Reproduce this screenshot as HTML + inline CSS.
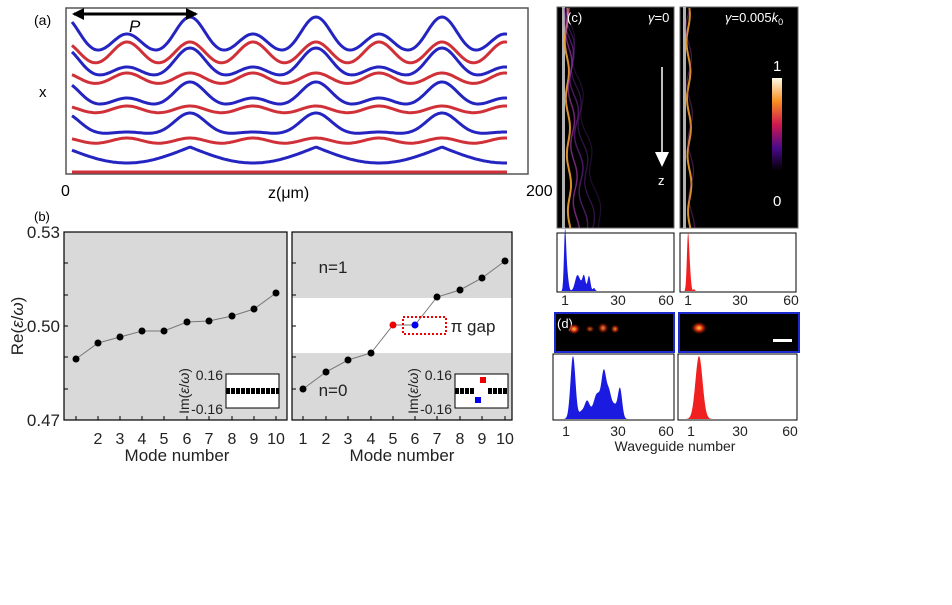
<!DOCTYPE html>
<html><head><meta charset="utf-8"><style>
html,body{margin:0;padding:0;background:#fff;}
svg{display:block;font-family:"Liberation Sans",Arial,sans-serif;}
</style></head><body>
<svg id="s" width="952" height="605" viewBox="0 0 952 605" xmlns="http://www.w3.org/2000/svg">
<defs>
<linearGradient id="cb" x1="0" y1="1" x2="0" y2="0">
<stop offset="0" stop-color="#000"/><stop offset="0.25" stop-color="#4a0a8a"/><stop offset="0.5" stop-color="#d01850"/><stop offset="0.75" stop-color="#f89020"/><stop offset="1" stop-color="#fffbe8"/>
</linearGradient>
<radialGradient id="gl"><stop offset="0" stop-color="#ffd040"/><stop offset="0.4" stop-color="#e03010"/><stop offset="1" stop-color="#000" stop-opacity="0"/></radialGradient>
</defs>
<!-- panel a -->
<rect x="66" y="8" width="462" height="166" fill="#fff" stroke="#555" stroke-width="1.5"/>
<g id="curves"></g>
<line x1="74" y1="14" x2="196" y2="14" stroke="#000" stroke-width="3"/>
<path d="M72 14 l12 -6 v12z M198 14 l-12 -6 v12z" fill="#000"/>
<text x="129" y="32" font-size="17" font-style="italic">P</text>
<text x="34" y="25" font-size="14">(a)</text>
<text x="39" y="97" font-size="15">x</text>
<text x="61" y="196" font-size="16">0</text>
<text x="526" y="196" font-size="16">200</text>
<text x="268" y="198" font-size="16">z(μm)</text>
<!-- panel b -->
<text x="34" y="221" font-size="13">(b)</text>
<rect x="64" y="232" width="223" height="188" fill="#d9d9d9" stroke="#000" stroke-width="1.2"/>
<rect x="292" y="232" width="220" height="188" fill="#d9d9d9"/>
<rect x="292" y="298" width="220" height="55" fill="#fff"/>
<rect x="292" y="232" width="220" height="188" fill="none" stroke="#000" stroke-width="1.2"/>
<g font-size="17" fill="#222">
<text x="60" y="238" text-anchor="end">0.53</text>
<text x="60" y="332" text-anchor="end">0.50</text>
<text x="60" y="426" text-anchor="end">0.47</text>
<text x="177" y="461" text-anchor="middle">Mode number</text>
<text x="402" y="461" text-anchor="middle">Mode number</text>
<text transform="translate(23,326) rotate(-90)" text-anchor="middle">Re(<tspan font-style="italic">ε</tspan>/<tspan font-style="italic">ω</tspan>)</text>
<text x="333" y="273" text-anchor="middle">n=1</text>
<text x="333" y="396" text-anchor="middle">n=0</text>
<text x="473" y="332" text-anchor="middle">π gap</text>
</g>
<g id="b"></g>
<rect x="403" y="317" width="43" height="17" fill="none" stroke="#e00" stroke-width="2" stroke-dasharray="2,2"/>
<!-- insets -->
<rect x="226" y="374" width="53" height="34" fill="#fff" stroke="#000"/>
<line x1="226" y1="391" x2="279" y2="391" stroke="#000" stroke-width="6" stroke-dasharray="4,1"/>
<rect x="455" y="374" width="53" height="34" fill="#fff" stroke="#000"/>
<line x1="455" y1="391" x2="475" y2="391" stroke="#000" stroke-width="6" stroke-dasharray="4,1"/>
<line x1="488" y1="391" x2="508" y2="391" stroke="#000" stroke-width="6" stroke-dasharray="4,1"/>
<rect x="480" y="377" width="6" height="6" fill="#e00"/>
<rect x="475" y="397" width="6" height="6" fill="#00e"/>
<g font-size="14" fill="#222">
<text x="223" y="380" text-anchor="end">0.16</text>
<text x="223" y="414" text-anchor="end">-0.16</text>
<text transform="translate(189,391) rotate(-90)" text-anchor="middle">Im(<tspan font-style="italic">ε</tspan>/<tspan font-style="italic">ω</tspan>)</text>
<text x="452" y="380" text-anchor="end">0.16</text>
<text x="452" y="414" text-anchor="end">-0.16</text>
<text transform="translate(418,391) rotate(-90)" text-anchor="middle">Im(<tspan font-style="italic">ε</tspan>/<tspan font-style="italic">ω</tspan>)</text>
</g>
<!-- panel c -->
<rect x="557" y="7" width="117" height="221" fill="#000" stroke="#666"/>
<rect x="680" y="7" width="118" height="221" fill="#000" stroke="#666"/>
<g id="c"></g>
<text x="567" y="22" font-size="13" fill="#fff">(c)</text>
<text x="648" y="22" font-size="13" fill="#fff" font-style="italic">γ<tspan font-style="normal">=0</tspan></text>
<text x="725" y="22" font-size="13" fill="#fff"><tspan font-style="italic">γ</tspan>=0.005<tspan font-style="italic">k</tspan><tspan font-size="9" dy="3">0</tspan></text>
<line x1="662" y1="67" x2="662" y2="152" stroke="#fff" stroke-width="1.5"/>
<path d="M655 152 h14 l-7 15z" fill="#fff"/>
<text x="658" y="185" font-size="13" fill="#fff">z</text>
<rect x="772" y="78" width="10" height="93" fill="url(#cb)"/>
<text x="773" y="71" font-size="15" fill="#fff">1</text>
<text x="773" y="206" font-size="15" fill="#fff">0</text>
<!-- hists -->
<rect x="557" y="233" width="117" height="59" fill="#fff" stroke="#000"/>
<rect x="680" y="233" width="116" height="59" fill="#fff" stroke="#000"/>
<rect x="555" y="313" width="119" height="39" fill="#000" stroke="#1a2ad0" stroke-width="2"/>
<rect x="679" y="313" width="120" height="39" fill="#000" stroke="#1a2ad0" stroke-width="2"/>
<text x="557" y="328" font-size="13" fill="#fff">(d)</text>
<ellipse cx="574" cy="329" rx="7" ry="6" fill="url(#gl)"/>
<ellipse cx="590" cy="329" rx="5" ry="4" fill="url(#gl)" opacity="0.6"/>
<ellipse cx="603" cy="328" rx="6" ry="6" fill="url(#gl)" opacity="0.8"/>
<ellipse cx="615" cy="329" rx="5" ry="5" fill="url(#gl)" opacity="0.8"/>
<ellipse cx="699" cy="328" rx="9" ry="7" fill="url(#gl)"/>
<rect x="773" y="339" width="19" height="3" fill="#fff"/>
<rect x="553" y="354" width="121" height="66" fill="#fff" stroke="#000"/>
<rect x="678" y="354" width="119" height="66" fill="#fff" stroke="#000"/>
<g id="h"></g>
<g font-size="14" fill="#222" text-anchor="middle">
<text x="565" y="305">1</text><text x="618" y="305">30</text><text x="666" y="305">60</text>
<text x="688" y="305">1</text><text x="740" y="305">30</text><text x="791" y="305">60</text>
<text x="566" y="436">1</text><text x="618" y="436">30</text><text x="666" y="436">60</text>
<text x="691" y="436">1</text><text x="740" y="436">30</text><text x="790" y="436">60</text>
<text x="675" y="451" font-size="14">Waveguide number</text>
</g>
</svg>
<script>
var NS="http://www.w3.org/2000/svg";
function el(p,t,a){var e=document.createElementNS(NS,t);for(var k in a)e.setAttribute(k,a[k]);document.getElementById(p).appendChild(e);return e;}
var C=[["b",58,41,24,22],["r",70,28,28,22],["b",80,32,13,22],["r",87,14,14,22],["b",108,26,10,22],["r",115,9,9,22],["b",135,22,3,22],["r",145,7,7,22],["b",163,16,0,0],["r",172,0,0,22]];
var big=[64,190,316,442,568],sm=[1,127,253,379,505];
C.forEach(function(c){var d="";for(var x=72;x<=507;x+=1.5){var y=c[1];var f=0;
if(c[4]==0){y=147+16*Math.abs(Math.sin(Math.PI*(x-190)/126));}
else{big.forEach(function(p){f+=c[2]*Math.exp(-Math.pow((x-p)/c[4],2));});sm.forEach(function(p){f+=c[3]*Math.exp(-Math.pow((x-p)/c[4],2));});y-=f;}
d+=(d?"L":"M")+x.toFixed(1)+" "+y.toFixed(1);}
el("curves","path",{d:d,fill:"none",stroke:c[0]=="b"?"#2424c0":"#d03038","stroke-width":3});});
var L=[[76,359],[98,343],[120,337],[142,331],[164,331],[187,322],[209,321],[232,316],[254,309],[276,293]];
var R=[[303,389],[326,372],[348,360],[371,353],[393,325],[415,325],[437,297],[460,290],[482,278],[505,261]];
[L,R].forEach(function(P,k){el("b","polyline",{points:P.map(function(p){return p.join(",")}).join(" "),fill:"none",stroke:"#777","stroke-width":1});
P.forEach(function(p,i){var col="#000";if(k==1&&i==4)col="#e00";if(k==1&&i==5)col="#00e";el("b","circle",{cx:p[0],cy:p[1],r:3.5,fill:col});
el("b","line",{x1:p[0],y1:420,x2:p[0],y2:416,stroke:"#000"});
if(k==1||i>0){var t=el("b","text",{x:p[0],y:444,"font-size":16,fill:"#222","text-anchor":"middle"});t.textContent=i+1;}});
[232,263,295,326,357,389].forEach(function(y){el("b","line",{x1:k?292:64,y1:y,x2:(k?292:64)+4,y2:y,stroke:"#000"});});});
el("c","rect",{x:562,y:7,width:3,height:221,fill:"#ddd",opacity:0.8});
el("c","rect",{x:683,y:7,width:3,height:221,fill:"#ddd",opacity:0.8});
function wig(x0,spread,amp,ph,col,w,op){var d="";for(var y=8;y<=228;y+=2){var x=x0+spread*(y-8)/220+amp*Math.sin(y/9+ph);d+=(d?"L":"M")+x.toFixed(1)+" "+y;}el("c","path",{d:d,fill:"none",stroke:col,"stroke-width":w,opacity:op});}
wig(566,4,1.8,0,"#f0a030",2,0.9);wig(567,10,2.5,1,"#c040c0",1.5,0.6);wig(567,18,3,2,"#9030c0",1.5,0.5);wig(567,26,3,3,"#8030b0",1.3,0.4);wig(567,34,3,4,"#7030a0",1.2,0.3);
wig(688,2,1.8,0,"#f0a030",2,0.9);wig(688,4,2.5,1.5,"#b040b0",1.2,0.4);
function hist(fn,x0,x1,yb,col){var d="M"+x0+" "+yb;for(var x=x0;x<=x1;x+=0.5){d+="L"+x+" "+(yb-Math.min(fn(x),64)).toFixed(1);}d+="L"+x1+" "+yb+"Z";el("h","path",{d:d,fill:col});}
function g(x,c,w,h){return h*Math.exp(-Math.pow((x-c)/w,2));}
hist(function(x){return x<562?0:g(x,565,1.5,56)+g(x,567,2,18)+g(x,577,3,10)+g(x,584,2,12)+g(x,589,2,15)+g(x,580,5,8)+g(x,594,1.5,3);},558,600,291,"#1a1ae0");
hist(function(x){return x<685?0:g(x,688,1.6,56)+g(x,690,1.5,15)+g(x,694,1,2);},682,700,291,"#f02020");
hist(function(x){return g(x,573,3.5,63)+g(x,587,4,18)+g(x,597,5,25)+g(x,604,3.5,45)+g(x,609,3,22)+g(x,620,3,30)+g(x,614,4,14)+g(x,581,3,6);},560,632,419,"#1a1ae0");
hist(function(x){return g(x,699,5,63);},680,720,419,"#f02020");
</script>
</body></html>
